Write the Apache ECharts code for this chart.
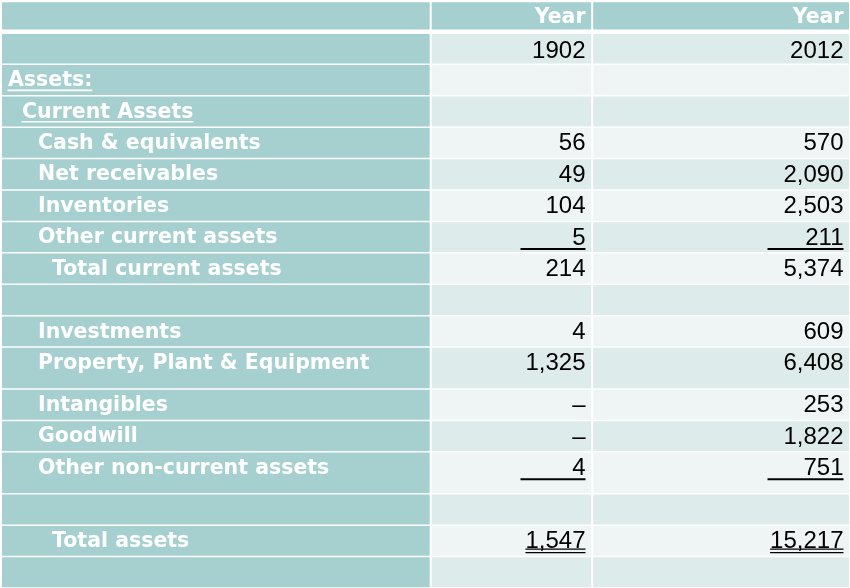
<!DOCTYPE html>
<html>
<head>
<meta charset="utf-8">
<script src="https://cdn.jsdelivr.net/npm/echarts@6/dist/echarts.min.js"></script>
<style>
html,body{margin:0;padding:0;background:#ffffff;}
#chart{width:850px;height:588px;}
</style>
</head>
<body>
<div id="chart"></div>
<script>
// ---------------- data ----------------
const headerLabels = ['Year', 'Year'];
const periods = ['1902', '2012'];
const rowLabels = [
  'Assets:', 'Current Assets', 'Cash & equivalents', 'Net receivables', 'Inventories',
  'Other current assets', 'Total current assets', '', 'Investments',
  'Property, Plant & Equipment', 'Intangibles', 'Goodwill', 'Other non-current assets',
  '', 'Total assets', ''
];
const rowLevels = [0, 1, 2, 2, 2, 2, 3, 0, 2, 2, 2, 2, 2, 0, 3, 0];
const values1902 = [null, null, 56, 49, 104, 5, 214, null, 4, 1325, '–', '–', 4, null, 1547, null];
const values2012 = [null, null, 570, 2090, 2503, 211, 5374, null, 609, 6408, 253, 1822, 751, null, 15217, null];

// ---------------- layout / style ----------------
const TEAL = '#a6cfcf';
const CELL_DARK = '#ddebea';
const CELL_LIGHT = '#eff5f5';
const LABEL_FONT = 'bold 20.5px "DejaVu Sans", Verdana, sans-serif';
const NUM_FONT = '24px "Liberation Sans", Arial, sans-serif';
const colEdges = [0, 430.7, 592.2, 850];          // x-axis units
const indentPx = [8, 22, 38, 52];
const underlinedLabels = { 2: true, 3: true };    // table row index -> underlined label
const ruleRows = { 7: 'single', 14: 'single', 16: 'double' };
const TALL = 4 / 3;

const nRows = 2 + rowLabels.length;
const rowWeights = [];
for (let i = 0; i < nRows; i++) rowWeights.push((i === 11 || i === 14) ? TALL : 1);
const rowStarts = [];
let acc = 0;
for (let i = 0; i < nRows; i++) { rowStarts.push(acc); acc += rowWeights[i]; }
const totalUnits = acc;

const measureCtx = document.createElement('canvas').getContext('2d');
function textWidth(t, font) { measureCtx.font = font; return measureCtx.measureText(t).width; }
function fmt(v) {
  if (v === null || v === undefined) return '';
  if (typeof v === 'number') return v.toLocaleString('en-US');
  return String(v);
}

function cellTexts(i) {
  if (i === 0) return ['', headerLabels[0], headerLabels[1]];
  if (i === 1) return ['', periods[0], periods[1]];
  const k = i - 2;
  return [rowLabels[k], fmt(values1902[k]), fmt(values2012[k])];
}

const chart = echarts.init(document.getElementById('chart'), null, { renderer: 'canvas' });

const seriesData = [];
for (let i = 0; i < nRows; i++) seriesData.push([0, rowStarts[i], i]);

function renderItem(params, api) {
  const i = api.value(2);
  const y0 = api.value(1);
  const y1 = y0 + rowWeights[i];
  const children = [];
  const texts = cellTexts(i);
  const level = i >= 2 ? rowLevels[i - 2] : 0;
  for (let c = 0; c < 3; c++) {
    const p0 = api.coord([colEdges[c], y0]);
    const p1 = api.coord([colEdges[c + 1], y1]);
    const insetL = c === 0 ? 2 : 1;
    const insetR = 1;
    let insetT = 0.75, insetB = 0.75;
    if (i === 0) insetB = 3.5;
    if (i === 1) insetT = 1;
    const x = p0[0] + insetL;
    const w = p1[0] - p0[0] - insetL - insetR;
    const y = p0[1] + insetT;
    const h = p1[1] - p0[1] - insetT - insetB;
    let fill;
    if (c === 0 || i === 0) fill = TEAL;
    else fill = (i % 2 === 1) ? CELL_DARK : CELL_LIGHT;
    children.push({ type: 'rect', shape: { x: x, y: y, width: w, height: h }, style: { fill: fill } });

    const t = texts[c];
    const ty = p0[1] + 16.5 + (i === 1 ? 1.5 : 0);
    if (c === 0) {
      if (t) {
        const tx = p0[0] + indentPx[level];
        children.push({ type: 'text', style: { text: t, x: tx, y: ty, font: LABEL_FONT, fill: '#ffffff', align: 'left', verticalAlign: 'middle' } });
        if (underlinedLabels[i]) {
          const tw = textWidth(t, LABEL_FONT);
          const uy = p0[1] + 26;
          children.push({ type: 'line', shape: { x1: tx - 0.5, y1: uy, x2: tx + tw, y2: uy }, style: { stroke: '#ffffff', lineWidth: 1.6 } });
        }
      }
    } else {
      const right = p1[0] - (c === 1 ? 6.7 : 6.5);
      if (t) {
        const font = i === 0 ? LABEL_FONT : NUM_FONT;
        const color = i === 0 ? '#ffffff' : '#000000';
        children.push({ type: 'text', style: { text: t, x: right, y: ty, font: font, fill: color, align: 'right', verticalAlign: 'middle' } });
      }
      const rule = ruleRows[i];
      if (rule === 'single') {
        const len = c === 1 ? 65 : 76;
        const ly = p0[1] + 27.5;
        children.push({ type: 'line', shape: { x1: right - len, y1: ly, x2: right, y2: ly }, style: { stroke: '#000000', lineWidth: 2 } });
      } else if (rule === 'double' && t) {
        const tw = textWidth(t, NUM_FONT);
        const ly1 = p0[1] + 24, ly2 = p0[1] + 27.5;
        children.push({ type: 'line', shape: { x1: right - tw, y1: ly1, x2: right, y2: ly1 }, style: { stroke: '#000000', lineWidth: 1.3 } });
        children.push({ type: 'line', shape: { x1: right - tw, y1: ly2, x2: right, y2: ly2 }, style: { stroke: '#000000', lineWidth: 1.3 } });
      }
    }
  }
  return { type: 'group', children: children };
}

chart.setOption({
  animation: false,
  backgroundColor: '#ffffff',
  grid: { left: 0, right: 0, top: 1.5, bottom: 0 },
  xAxis: { type: 'value', min: 0, max: 850, show: false },
  yAxis: { type: 'value', min: 0, max: totalUnits, inverse: true, show: false },
  series: [{
    type: 'custom',
    coordinateSystem: 'cartesian2d',
    clip: false,
    encode: { x: 0, y: 1 },
    data: seriesData,
    renderItem: renderItem
  }]
});
</script>
</body>
</html>
